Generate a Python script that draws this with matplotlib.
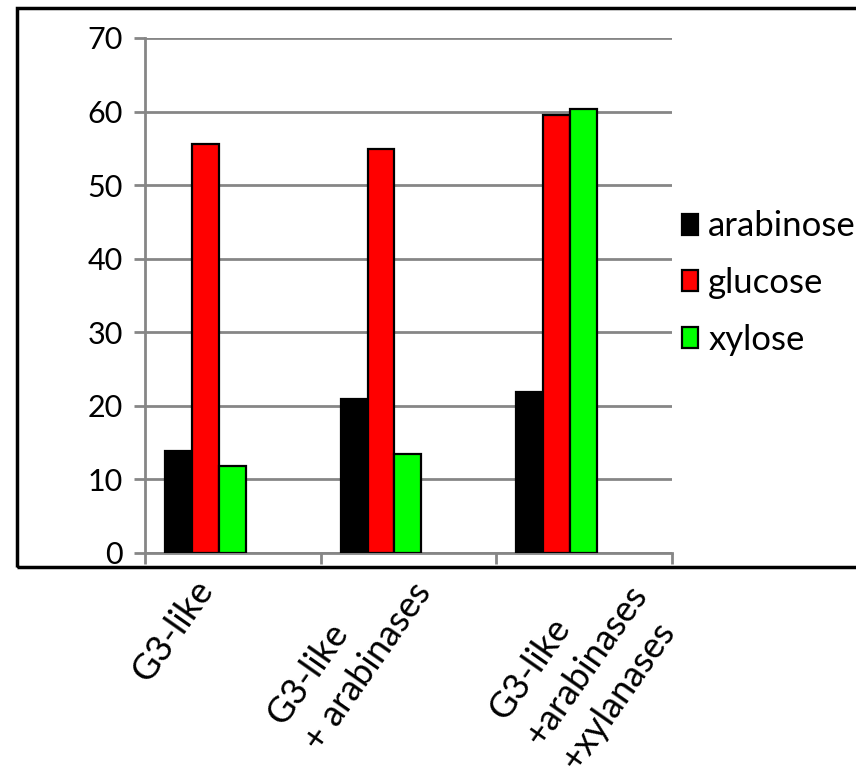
import numpy as np
import matplotlib.pyplot as plt
from matplotlib.patches import Rectangle

plt.rcParams['font.family'] = ['Lato', 'DejaVu Sans']

categories = ['G3-like', 'G3-like\n+ arabinases', 'G3-like\n+arabinases\n+xylanases']
series = ['arabinose', 'glucose', 'xylose']
arabinose = [13.8, 20.9, 21.9]
glucose = [55.6, 54.9, 59.6]
xylose = [11.8, 13.4, 60.3]
colors = ['#000000', '#ff0000', '#00ff00']
y_ticks = [0, 10, 20, 30, 40, 50, 60, 70]

# where each rotated category label starts, in pixels from its tick
label_offsets = [(-107, -116), (-147, -159), (-101, -154)]

grid_col = '#868686'

fig = plt.figure(figsize=(8.56, 7.77), dpi=100)
ax = fig.add_axes([0.1694, 0.2883, 0.6157, 0.6628])

x = np.arange(len(categories))
w = 0.153
start = -0.5 + 0.114
handles = []
for i, (vals, c, name) in enumerate(zip([arabinose, glucose, xylose], colors, series)):
    b = ax.bar(x + start + i * w, vals, w, color=c, align='edge',
               edgecolor='black', linewidth=1.6, label=name, zorder=3)
    handles.append(b)

ax.set_xlim(-0.5, 2.5)
ax.set_ylim(0, 70)
ax.set_yticks(y_ticks)
ax.set_yticklabels([str(t) for t in y_ticks], fontsize=22)
ax.yaxis.grid(True, color=grid_col, linewidth=2)
ax.set_axisbelow(True)

ax.set_xticks([-0.5, 0.5, 1.5, 2.5])
ax.set_xticklabels([])
ax.tick_params(axis='x', length=8, width=2, color=grid_col, direction='out')
ax.tick_params(axis='y', length=8, width=2, color=grid_col, pad=8)

for xi, lab, off in zip(x, categories, label_offsets):
    ax.annotate(lab, xy=(xi, 0), xycoords=('data', 'axes fraction'),
                xytext=off, textcoords='offset pixels', rotation=55,
                rotation_mode='anchor', ha='left', va='top',
                multialignment='left', linespacing=1.4, fontsize=26,
                annotation_clip=False)

for s in ['top', 'right']:
    ax.spines[s].set_visible(False)
for s in ['left', 'bottom']:
    ax.spines[s].set_color(grid_col)
    ax.spines[s].set_linewidth(2)

leg = ax.legend(handles=handles, loc='center left', bbox_to_anchor=(1.019, 0.524),
                frameon=False, fontsize=25, handlelength=0.45, handleheight=0.55,
                handletextpad=0.3, labelspacing=0.71, borderaxespad=0, borderpad=0)

# outer frame
fig.add_artist(Rectangle((0.0199, 0.2703), 1.0, 0.7194, transform=fig.transFigure,
                         fill=False, edgecolor='black', linewidth=2.5))

fig.savefig('out.png', dpi=100)
